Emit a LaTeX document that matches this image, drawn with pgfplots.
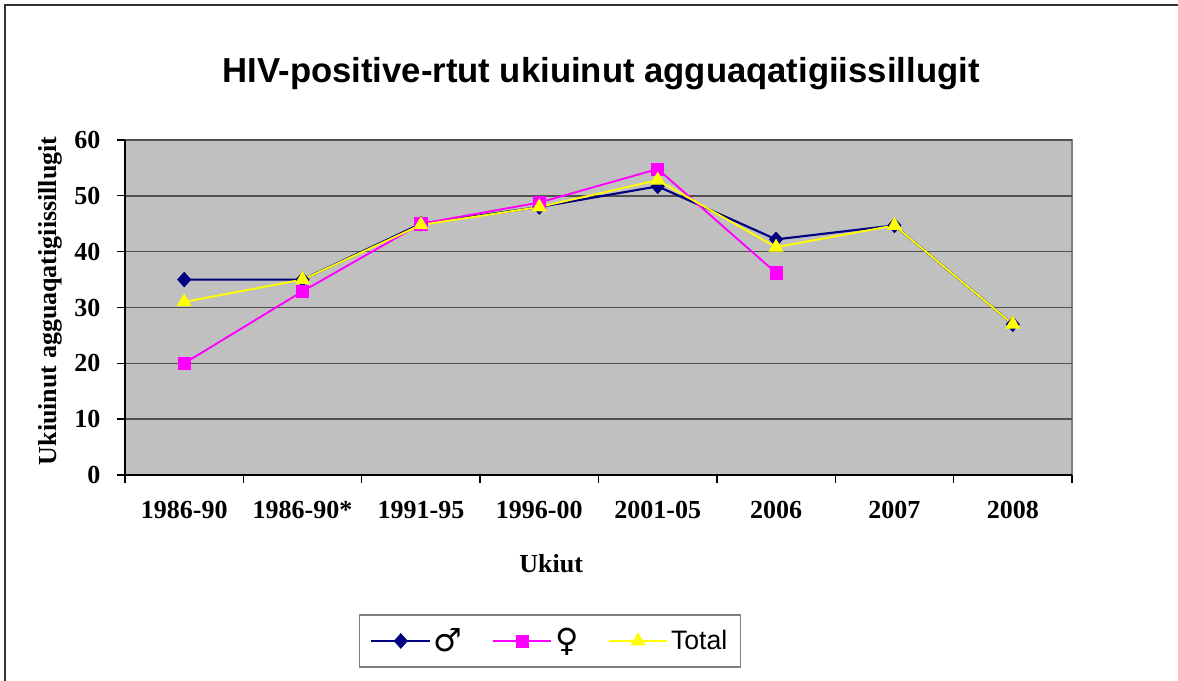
\documentclass[border=0pt]{standalone}
\usepackage{pgfplots}
\pgfplotsset{compat=1.18}
\usepackage{fontspec}
\setmainfont{Liberation Serif}
\newfontfamily\arial{Liberation Sans}
\newfontfamily\dejavu{DejaVu Sans}
\definecolor{plotbg}{HTML}{C0C0C0}
\definecolor{gridc}{HTML}{505050}
\definecolor{navyc}{HTML}{000080}
\definecolor{magc}{HTML}{FF00FF}
\definecolor{yelc}{HTML}{FFFF00}
\begin{document}
\begin{tikzpicture}
\path[use as bounding box] (-93.75pt,-154.5pt) rectangle (789.75pt,356.25pt);
\draw[line width=1.5pt, black!80] (-90pt,-160pt) -- (-90pt,352.5pt) -- (800pt,352.5pt);
\begin{axis}[
  scale only axis,
  width=710.25pt, height=251.25pt,
  xmin=-0.5, xmax=7.5, ymin=0, ymax=60,
  ytick={0,10,...,60},
  xtick={0,...,7},
  xticklabels={1986-90,1986-90*,1991-95,1996-00,2001-05,2006,2007,2008},
  minor xtick={-0.5,0.5,...,7.5},
  major x tick style={draw=none},
  minor tick length=6pt,
  major tick length=6pt,
  tick align=outside,
  axis x line*=bottom, axis y line*=left,
  axis line style={black, line width=1.3pt},
  tick style={black, line width=1pt},
  axis background/.style={fill=plotbg, draw=gray, line width=1.5pt},
  ymajorgrids,
  grid style={gridc, line width=1.2pt},
  /pgf/number format/assume math mode=true,
  tick label style={font=\fontsize{19.5}{22}\selectfont\bfseries},
  xticklabel style={yshift=-10pt},
  yticklabel style={xshift=-9pt},
  title={\arial\fontsize{26}{30}\selectfont\bfseries HIV-positive-rtut ukiuinut agguaqatigiissillugit},
  title style={at={(axis description cs:0.5027,1.173)}, anchor=center},
  xlabel={Ukiut},
  xlabel style={at={(axis description cs:0.45,-0.264)}, anchor=center, font=\fontsize{19.5}{22}\selectfont\bfseries},
  ylabel={Ukiuinut agguaqatigiissillugit},
  ylabel style={at={(axis description cs:-0.079,0.52)}, anchor=center, font=\fontsize{19.5}{22}\selectfont\bfseries},
  legend columns=3,
  legend style={at={(axis description cs:0.449,-0.4955)}, anchor=center, draw=gray, line width=1pt, font=\fontsize{20}{24}\selectfont\arial, inner xsep=8pt, inner ysep=8pt, /tikz/every even column/.append style={column sep=20pt}},
  legend image code/.code={
    \draw[mark repeat=2,mark phase=2] plot coordinates {(0pt,0pt) (22pt,0pt) (44pt,0pt)};
  },
  clip=false,
]
\addplot[navyc, line width=1.6pt, mark=diamond*, mark size=5.5pt, mark options={fill=navyc, draw=navyc, line width=0.5pt, xscale=1.2}] coordinates {
(0,35) (1,35) (2,45) (3,48) (4,51.7) (5,42.2) (6,44.7) (7,27)};
\addlegendentry{{\dejavu\fontsize{24}{24}\selectfont ♂}}
\addplot[magc, line width=1.4pt, mark=square*, mark size=4.6pt, mark options={fill=magc, draw=magc, line width=0.5pt}] coordinates {
(0,20) (1,32.9) (2,45) (3,48.8) (4,54.8) (5,36.2)};
\addlegendentry{{\dejavu\fontsize{24}{24}\selectfont ♀}}
\addplot[yelc, line width=1.4pt, mark=triangle*, mark size=6pt, mark options={fill=yelc, draw=yelc, line width=0.5pt}] coordinates {
(0,31) (1,35) (2,44.8) (3,48) (4,52.8) (5,40.8) (6,44.7) (7,27)};
\addlegendentry{Total}
\end{axis}
\end{tikzpicture}
\end{document}
